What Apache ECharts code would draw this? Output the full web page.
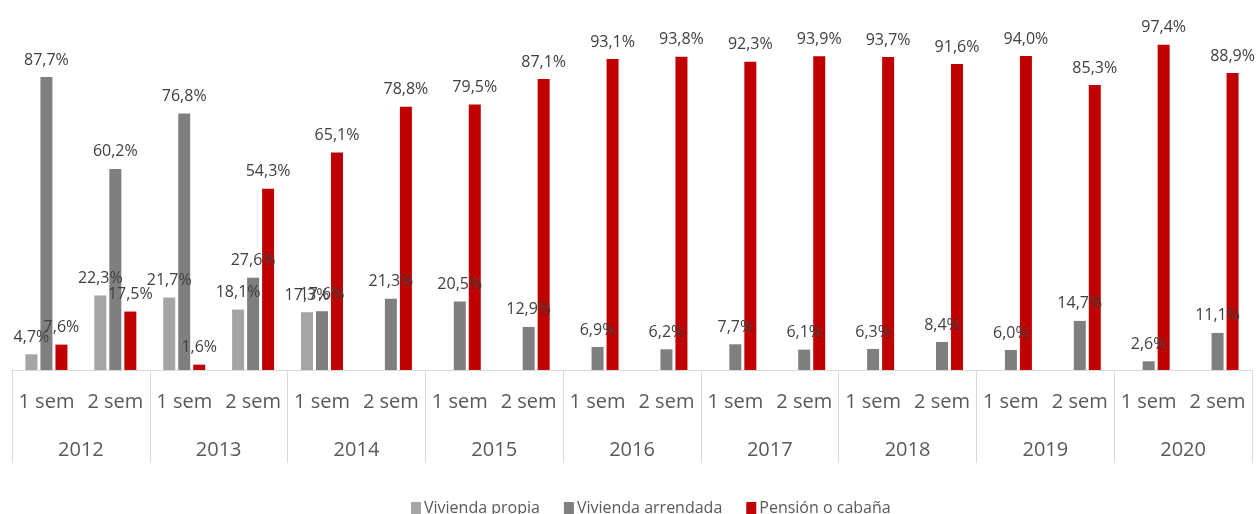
<!DOCTYPE html>
<html>
<head>
<meta charset="utf-8">
<script src="https://cdn.jsdelivr.net/npm/echarts@6/dist/echarts.min.js"></script>
<style>
  html, body { margin: 0; padding: 0; background: #fff; }
  #main { width: 1256px; height: 514px; }
</style>
</head>
<body>
<div id="main"></div>
<script>
// semestres y años
const semestres = ['1 sem', '2 sem', '1 sem', '2 sem', '1 sem', '2 sem', '1 sem', '2 sem', '1 sem',
  '2 sem', '1 sem', '2 sem', '1 sem', '2 sem', '1 sem', '2 sem', '1 sem', '2 sem'];
const anios = ['2012', '2013', '2014', '2015', '2016', '2017', '2018', '2019', '2020'];

// valores (%)
const viviendaPropia = [4.7, 22.3, 21.7, 18.1, 17.3, null, null, null, null,
  null, null, null, null, null, null, null, null, null];
const viviendaArrendada = [87.7, 60.2, 76.8, 27.6, 17.6, 21.3, 20.5, 12.9, 6.9,
  6.2, 7.7, 6.1, 6.3, 8.4, 6.0, 14.7, 2.6, 11.1];
const pensionCabana = [7.6, 17.5, 1.6, 54.3, 65.1, 78.8, 79.5, 87.1, 93.1,
  93.8, 92.3, 93.9, 93.7, 91.6, 94.0, 85.3, 97.4, 88.9];

const fuente = '"Open Sans", "Noto Sans", sans-serif';

function etiqueta() {
  return {
    show: true,
    position: 'top',
    distance: 9,
    color: '#404040',
    fontSize: 16,
    fontFamily: fuente,
    formatter: function (p) {
      return p.value.toFixed(1).replace('.', ',') + '%';
    }
  };
}

let myChart = echarts.init(document.getElementById('main'));
let option = {
  animation: false,
  grid: { left: 12, right: 4, top: 36, bottom: 144 },
  legend: {
    left: 406,
    top: 495,
    itemWidth: 10,
    itemHeight: 12,
    itemGap: 24,
    icon: 'rect',
    textStyle: { color: '#595959', fontSize: 16, fontFamily: fuente, padding: [0, 0, 0, -2] },
    data: ['Vivienda propia', 'Vivienda arrendada', 'Pensión o cabaña']
  },
  xAxis: [
    {
      type: 'category',
      data: semestres,
      axisLine: { lineStyle: { color: '#d9d9d9', width: 1 } },
      axisTick: { show: false },
      axisLabel: { interval: 0, margin: 22, color: '#595959', fontSize: 20, fontFamily: fuente }
    },
    {
      type: 'category',
      data: anios,
      position: 'bottom',
      axisLine: { show: false },
      axisTick: { show: true, interval: 0, length: 93, lineStyle: { color: '#d9d9d9', width: 1 } },
      axisLabel: { interval: 0, margin: 70, color: '#595959', fontSize: 20, fontFamily: fuente }
    }
  ],
  yAxis: { type: 'value', min: 0, max: 100, show: false },
  series: [
    {
      name: 'Vivienda propia',
      type: 'bar',
      data: viviendaPropia,
      itemStyle: { color: '#a5a5a5' },
      barWidth: 12,
      barGap: '25%',
      label: etiqueta()
    },
    {
      name: 'Vivienda arrendada',
      type: 'bar',
      data: viviendaArrendada,
      itemStyle: { color: '#7f7f7f' },
      barWidth: 12,
      barGap: '25%',
      label: etiqueta()
    },
    {
      name: 'Pensión o cabaña',
      type: 'bar',
      data: pensionCabana,
      itemStyle: { color: '#c00000' },
      barWidth: 12,
      barGap: '25%',
      label: etiqueta()
    }
  ]
};
myChart.setOption(option);
</script>
</body>
</html>
